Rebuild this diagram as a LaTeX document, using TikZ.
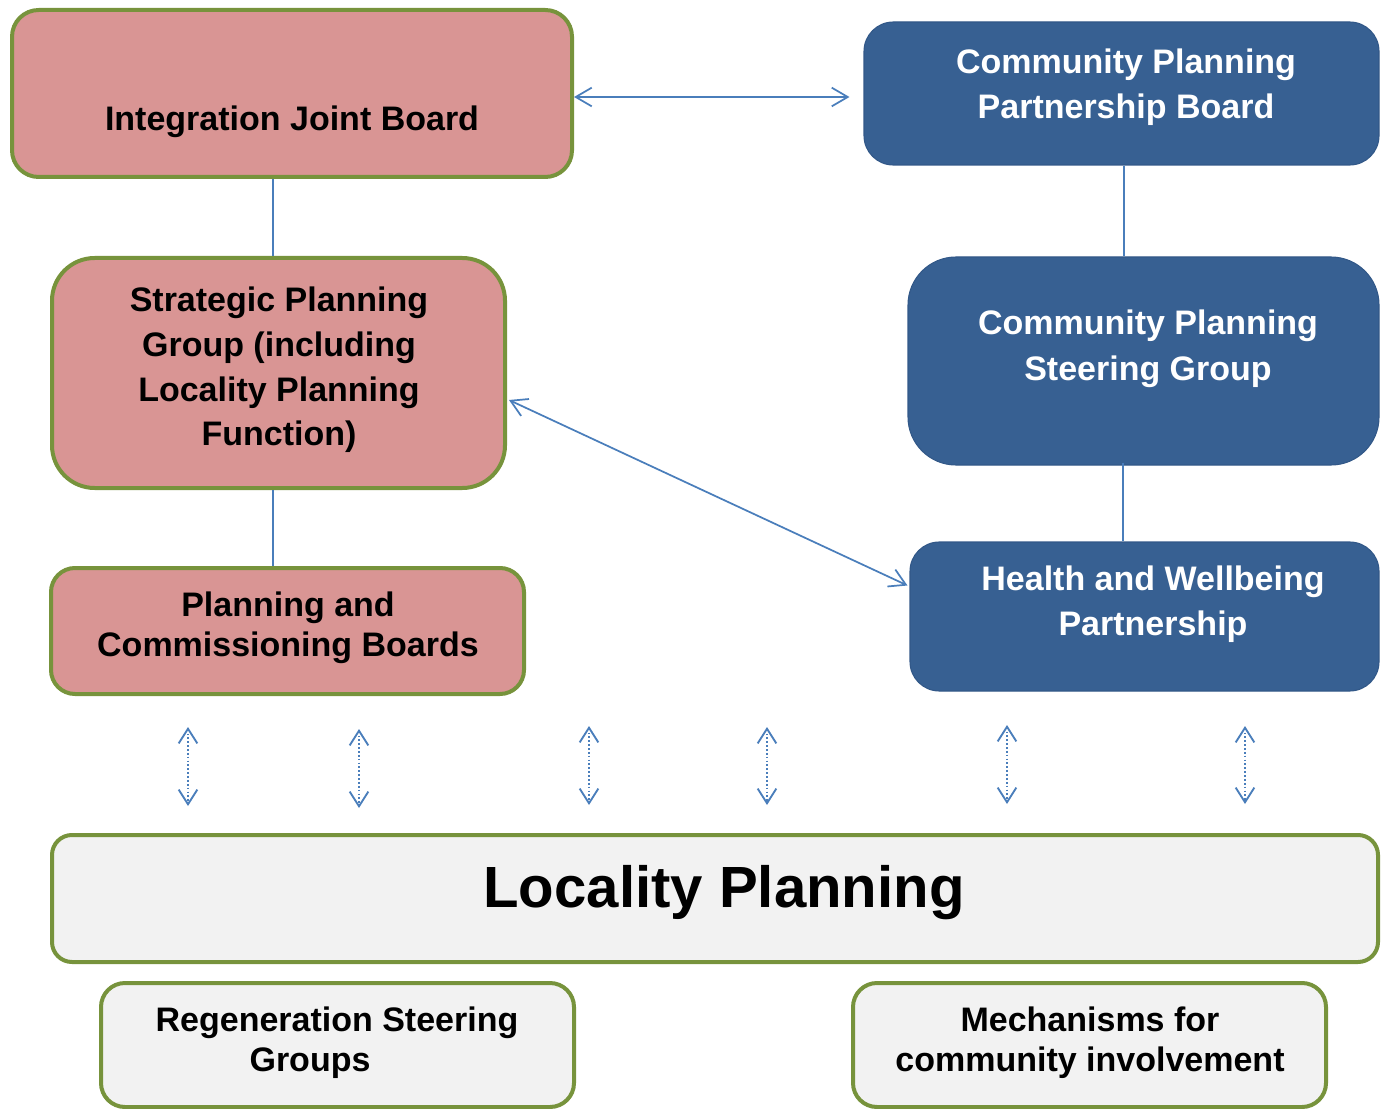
\documentclass[tikz,border=0pt]{standalone}
\usepackage{fontspec}
\setmainfont{Liberation Sans}
\usetikzlibrary{arrows.meta,fit,calc}
\definecolor{pinkf}{RGB}{217,149,148}
\definecolor{greenb}{RGB}{119,147,60}
\definecolor{bluef}{RGB}{55,96,146}
\definecolor{blueedge}{RGB}{50,88,136}
\definecolor{greyf}{RGB}{242,242,242}
\definecolor{connc}{RGB}{74,126,187}
\begin{document}
\begin{tikzpicture}[x=0.75pt,y=-0.75pt,
 pinkbox/.style={draw=greenb, fill=pinkf, line width=3pt, inner sep=0pt},
 greybox/.style={draw=greenb, fill=greyf, line width=3pt, inner sep=0pt},
 bluebox/.style={draw=blueedge, fill=bluef, line width=0.8pt, inner sep=0pt},
 lbl/.style={font=\bfseries\fontsize{25.5}{33.5}\selectfont, align=center, inner sep=0pt},
 wlbl/.style={lbl, text=white},
 connline/.style={draw=connc, line width=1.1pt},
 tipb/.tip={Straight Barb[length=12pt,width=14pt]},
 tipd/.tip={Straight Barb[length=11pt,width=14pt]},
 biarrow/.style={draw=connc, line width=1.3pt, tipb-tipb},
 dotarrow/.style={draw=connc, line width=1.4pt, dash pattern=on 1.3pt off 1.6pt, tipd-tipd}
]
\useasboundingbox (0,0) rectangle (1381,1109);

% boxes
\node[pinkbox, rounded corners=20pt, fit={(12,10) (572,177)}] (ijb) {};
\node[pinkbox, rounded corners=32pt, fit={(52,258) (505,488)}] (spg) {};
\node[pinkbox, rounded corners=18pt, fit={(51,568) (524,694)}] (pcb) {};
\node[bluebox, rounded corners=22pt, fit={(864,22) (1379,165)}] (cppb) {};
\node[bluebox, rounded corners=36pt, fit={(908,257) (1379,465)}] (cpsg) {};
\node[bluebox, rounded corners=22pt, fit={(910,542) (1379,691)}] (hwp) {};
\node[greybox, rounded corners=15pt, fit={(52,835) (1378,962)}] (lp) {};
\node[greybox, rounded corners=18pt, fit={(101,983) (574,1107)}] (rsg) {};
\node[greybox, rounded corners=18pt, fit={(853,983) (1326,1107)}] (mci) {};

% labels
\node[lbl] (tijb) at (292,122) {Integration Joint Board};
\node[lbl, font=\bfseries\fontsize{25.5}{33.5}\selectfont] (tspg) at (279,370) {Strategic Planning\\Group (including\\Locality Planning\\Function)};
\node[lbl, font=\bfseries\fontsize{25.5}{30}\selectfont] (tpcb) at (288,628) {Planning and\\Commissioning Boards};
\node[wlbl, font=\bfseries\fontsize{25.5}{33.75}\selectfont] (tcppb) at (1126,87) {Community Planning\\Partnership Board};
\node[wlbl, font=\bfseries\fontsize{25.5}{34.5}\selectfont] (tcpsg) at (1148,349) {Community Planning\\Steering Group};
\node[wlbl, font=\bfseries\fontsize{25.5}{33.75}\selectfont] (thwp) at (1153,604) {Health and Wellbeing\\Partnership};
\node[lbl, font=\bfseries\fontsize{43.6}{50}\selectfont] (tlp) at (724,893) {Locality Planning};
\node[lbl, font=\bfseries\fontsize{25.5}{30}\selectfont] (trsg) at (337,1043) {Regeneration Steering\\\hbox{Groups\hspace{40.5pt}}};
\node[lbl, font=\bfseries\fontsize{25.5}{30}\selectfont] (tmci) at (1090,1043) {Mechanisms for\\community involvement};

% vertical connectors
\coordinate (xl) at (273,0);
\coordinate (xr1) at (1124,0);
\coordinate (xr2) at (1123,0);
\draw[connline] (ijb.south -| xl) -- (spg.north -| xl);
\draw[connline] (spg.south -| xl) -- (pcb.north -| xl);
\draw[connline] (cppb.south -| xr1) -- (cpsg.north -| xr1);
\draw[connline] ([yshift=2.25pt]cpsg.south -| xr2) -- (hwp.north -| xr2);

% arrows
\coordinate (ya) at (0,97);
\draw[biarrow, shorten >=10.5pt] (ijb.east |- ya) -- (cppb.west |- ya);
\draw[biarrow] ($(spg.east)+(2,27)$) -- ($(hwp.west)+(-2,-31)$);

% dotted double arrows
\coordinate (d1a) at (188,727);  \coordinate (d1b) at (188,806);
\coordinate (d2a) at (359,729);  \coordinate (d2b) at (359,808);
\coordinate (d3a) at (589,726);  \coordinate (d3b) at (589,805);
\coordinate (d4a) at (767,727);  \coordinate (d4b) at (767,805);
\coordinate (d5a) at (1007,725); \coordinate (d5b) at (1007,804);
\coordinate (d6a) at (1245,726); \coordinate (d6b) at (1245,804);
\foreach \i in {1,...,6} {\draw[dotarrow] (d\i a) -- (d\i b);}
\end{tikzpicture}
\end{document}
